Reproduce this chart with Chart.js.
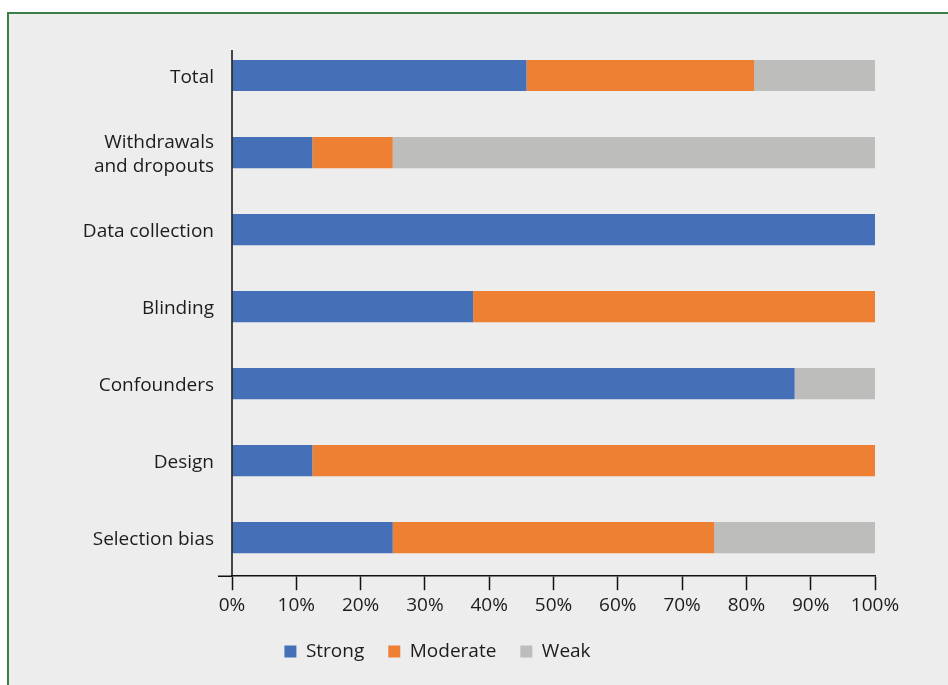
<!DOCTYPE html>
<html>
<head>
<meta charset="utf-8">
<script src="https://cdn.jsdelivr.net/npm/chart.js@4/dist/chart.umd.min.js"></script>
<style>
  html, body { margin: 0; padding: 0; background: #ffffff; width: 948px; height: 685px; overflow: hidden; }
  #frame { position: absolute; left: 7px; top: 12px; width: 960px; height: 700px; background: #ededed; border-left: 2px solid #3a7f46; border-top: 2px solid #3a7f46; box-sizing: border-box; }
  #wrap { position: absolute; left: 0; top: 0; width: 948px; height: 685px; }
</style>
</head>
<body>
<div id="frame"></div>
<div id="wrap"><canvas id="c" width="948" height="685"></canvas></div>
<script>
const categories = ['Total', ['Withdrawals', 'and dropouts'], 'Data collection', 'Blinding', 'Confounders', 'Design', 'Selection bias'];
const strong   = [45.8, 12.5, 100, 37.5, 87.5, 12.5, 25];
const moderate = [35.4, 12.5, 0, 62.5, 0, 87.5, 50];
const weak     = [18.8, 75, 0, 0, 12.5, 0, 25];
const seriesNames = ['Strong', 'Moderate', 'Weak'];
const xTicks = [0, 10, 20, 30, 40, 50, 60, 70, 80, 90, 100];

const FONT = "'Open Sans', 'Liberation Sans', sans-serif";
const TEXT = '#1c1c1c';

const axisPlugin = {
  id: 'axisLines',
  afterDraw(chart) {
    const { ctx, chartArea } = chart;
    ctx.save();
    ctx.strokeStyle = '#111';
    ctx.lineWidth = 1.5;
    ctx.beginPath();
    ctx.moveTo(chartArea.left, chartArea.top + 13);
    ctx.lineTo(chartArea.left, chartArea.bottom);
    ctx.moveTo(chartArea.left - 14, chartArea.bottom);
    ctx.lineTo(chartArea.left, chartArea.bottom);
    ctx.stroke();
    ctx.restore();
  }
};

new Chart(document.getElementById('c'), {
  type: 'bar',
  data: {
    labels: categories,
    datasets: [
      { label: seriesNames[0], data: strong,   backgroundColor: '#4570b7' },
      { label: seriesNames[1], data: moderate, backgroundColor: '#ee8034' },
      { label: seriesNames[2], data: weak,     backgroundColor: '#bdbdbc' }
    ]
  },
  options: {
    indexAxis: 'y',
    responsive: false,
    animation: false,
    devicePixelRatio: 1,
    barPercentage: 0.405,
    categoryPercentage: 1,
    layout: { padding: { top: 37, right: 73, bottom: 14, left: 0 } },
    plugins: {
      legend: {
        position: 'bottom',
        labels: {
          boxWidth: 12, boxHeight: 12, padding: 24,
          color: TEXT,
          font: { family: FONT, size: 19 }
        }
      },
      tooltip: { enabled: false }
    },
    scales: {
      x: {
        stacked: true,
        min: 0, max: 100,
        afterFit(scale) { scale.height -= 3; },
        afterBuildTicks(scale) { scale.ticks = xTicks.map(v => ({ value: v })); },
        grid: { drawOnChartArea: false, drawTicks: true, tickLength: 14, color: '#111', tickWidth: 1.5 },
        border: { display: true, color: '#111', width: 1.5 },
        ticks: { color: TEXT, font: { family: FONT, size: 19 }, padding: 4, callback: v => v + '%', maxRotation: 0 }
      },
      y: {
        stacked: true,
        afterFit(scale) { scale.width = 232; },
        grid: { display: false, drawTicks: false },
        border: { display: false },
        ticks: { color: TEXT, font: { family: FONT, size: 19, lineHeight: 1.25 }, padding: 18, labelOffset: 2 }
      }
    }
  },
  plugins: [axisPlugin]
});
</script>
</body>
</html>
